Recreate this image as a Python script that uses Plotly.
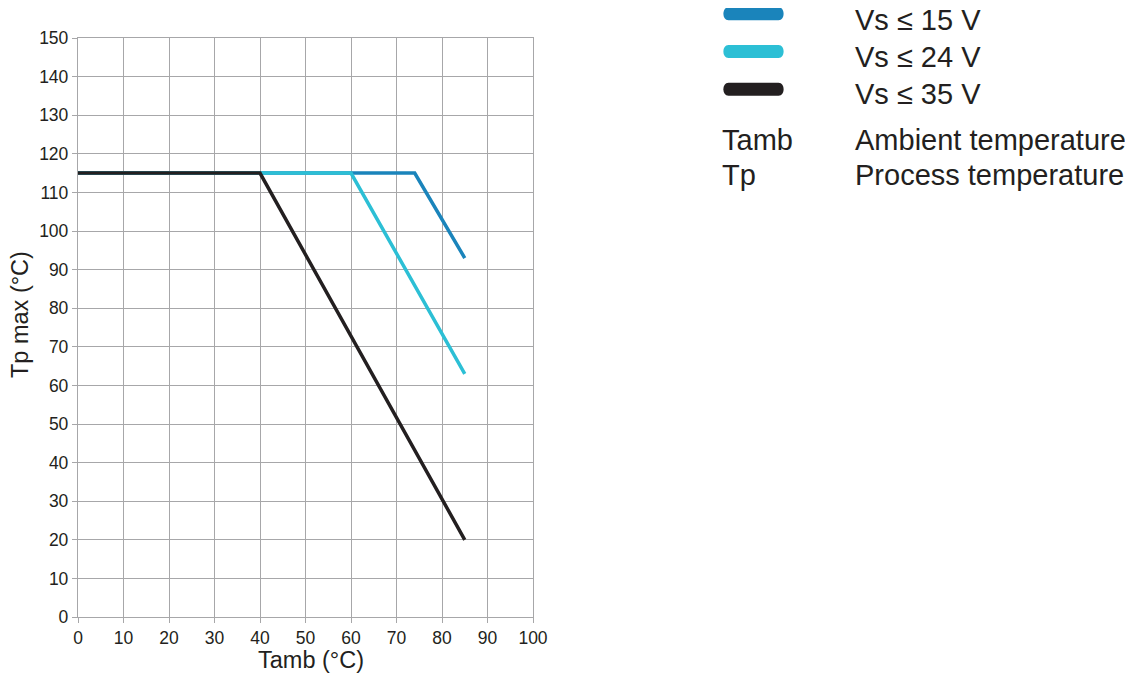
import plotly.graph_objects as go

# Data
series_names = ["Vs ≤ 15 V", "Vs ≤ 24 V", "Vs ≤ 35 V"]
tamb_15 = [0, 74, 85]
tp_15 = [115, 115, 93]
tamb_24 = [0, 60, 85]
tp_24 = [115, 115, 63]
tamb_35 = [0, 40, 85]
tp_35 = [115, 115, 20]
colors = ["#1a84bb", "#2cbfd5", "#231f20"]
x_ticks = list(range(0, 101, 10))
y_ticks = list(range(0, 151, 10))
x_title = "Tamb (°C)"
y_title = "Tp max (°C)"
abbr_terms = ["Tamb", "Tp"]
abbr_meanings = ["Ambient temperature", "Process temperature"]

OFF = 8  # page body margin
W, H = 1133 - OFF, 677 - OFF
L, R, T, B = 78 - OFF, 533 - OFF, 38 - OFF, 617 - OFF
FONT = "Liberation Sans, Arial, sans-serif"
TXT = "#231f20"


def px_x(px):
    return (px - OFF - L) / (R - L)


def px_y(py):
    return (B - (py - OFF)) / (B - T)


fig = go.Figure()
for xs, ys, c, n in zip([tamb_15, tamb_24, tamb_35], [tp_15, tp_24, tp_35], colors, series_names):
    fig.add_trace(go.Scatter(x=xs, y=ys, mode="lines", name=n,
                             line=dict(color=c, width=3.5), hoverinfo="skip",
                             showlegend=False))

grid = "#a7a7a9"
common = dict(showgrid=True, gridcolor=grid, gridwidth=1.3, zeroline=False, showline=True,
              linecolor=grid, linewidth=1.3, mirror=True, ticks="outside", ticklen=5,
              tickcolor=grid, tickwidth=1.3, tickfont=dict(size=17.5, color=TXT, family=FONT),
              automargin=False)
fig.update_xaxes(range=[0, 100], tickvals=x_ticks, **common)
fig.update_yaxes(range=[0, 150], tickvals=y_ticks, **common)

shapes = []
annotations = []
# axis titles
annotations.append(dict(text=x_title, xref="paper", yref="paper", x=px_x(311), y=px_y(660),
                        xanchor="center", yanchor="middle", showarrow=False,
                        font=dict(size=23.5, color=TXT, family=FONT)))
annotations.append(dict(text=y_title, xref="paper", yref="paper", x=px_x(20), y=px_y(315),
                        xanchor="center", yanchor="middle", showarrow=False, textangle=-90,
                        font=dict(size=23.5, color=TXT, family=FONT)))

bar_centers = [13.7, 51.5, 89.3]
for i, (yc, c, n) in enumerate(zip(bar_centers, colors, series_names)):
    x0, x1, h = 722, 785, 13
    r = h / 2
    path = (f"M {px_x(x0 + r)} {px_y(yc - r)} L {px_x(x1 - r)} {px_y(yc - r)} "
            f"C {px_x(x1 + 0.3)} {px_y(yc - r)} {px_x(x1 + 0.3)} {px_y(yc + r)} {px_x(x1 - r)} {px_y(yc + r)} "
            f"L {px_x(x0 + r)} {px_y(yc + r)} "
            f"C {px_x(x0 - 0.3)} {px_y(yc + r)} {px_x(x0 - 0.3)} {px_y(yc - r)} {px_x(x0 + r)} {px_y(yc - r)} Z")
    shapes.append(dict(type="path", xref="paper", yref="paper", path=path,
                       fillcolor=c, line=dict(width=0)))
    dy = 6 if i == 0 else 5
    annotations.append(dict(text=n, xref="paper", yref="paper", x=px_x(853), y=px_y(yc + dy),
                            xanchor="left", yanchor="middle", showarrow=False,
                            font=dict(size=29, color=TXT, family=FONT)))

for i, (term, meaning) in enumerate(zip(abbr_terms, abbr_meanings)):
    yc = 140 + i * 35
    annotations.append(dict(text=term, xref="paper", yref="paper", x=px_x(720), y=px_y(yc),
                            xanchor="left", yanchor="middle", showarrow=False,
                            font=dict(size=29, color=TXT, family=FONT)))
    annotations.append(dict(text=meaning, xref="paper", yref="paper", x=px_x(853), y=px_y(yc),
                            xanchor="left", yanchor="middle", showarrow=False,
                            font=dict(size=29, color=TXT, family=FONT)))

fig.update_layout(width=W, height=H, margin=dict(l=L, r=W - R, t=T, b=H - B),
                  plot_bgcolor="white", paper_bgcolor="white",
                  shapes=shapes, annotations=annotations, showlegend=False)

fig.write_html("out.html")
